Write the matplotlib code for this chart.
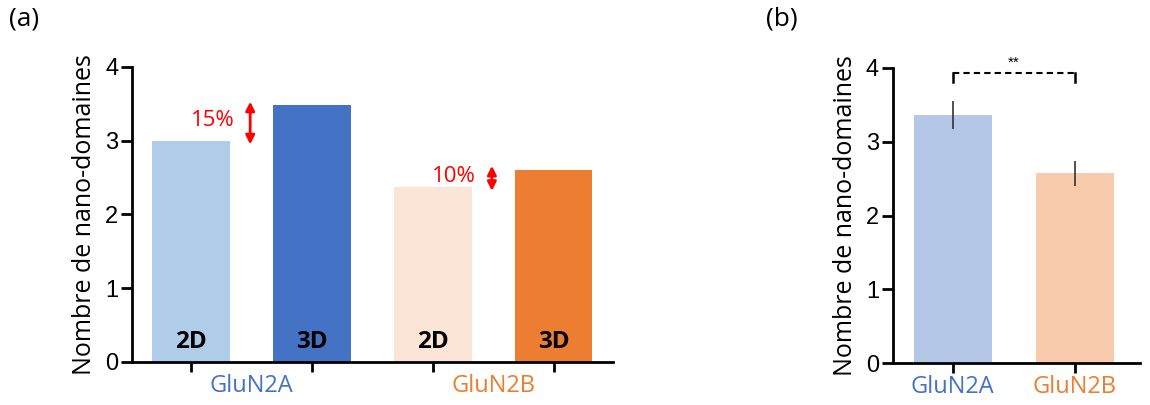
import matplotlib
matplotlib.use("Agg")
import matplotlib.pyplot as plt
import numpy as np

# panel (a) data
groups = ["GluN2A", "GluN2B"]
conditions = ["2D", "3D"]
values_a = [3.0, 3.48, 2.37, 2.61]
colors_a = ["#AFCDE9", "#4472C4", "#FBE5D6", "#ED7D31"]
pct_labels = ["15%", "10%"]

# panel (b) data
names_b = ["GluN2A", "GluN2B"]
values_b = [3.36, 2.57]
errors_b = [0.19, 0.17]
colors_b = ["#B4C7E7", "#F8CBAD"]
group_colors = ["#4472C4", "#ED7D31"]
signif = "**"

yticks = [0, 1, 2, 3, 4]
ylabel = "Nombre de nano-domaines"

label_font = ["Open Sans", "DejaVu Sans"]
tick_font = ["Liberation Sans", "DejaVu Sans"]

fig = plt.figure(figsize=(11.5, 4.05), dpi=100)
ax1 = fig.add_axes([0.1148, 0.1062, 0.418, 0.7284])
ax2 = fig.add_axes([0.7765, 0.1037, 0.2145, 0.7284])


def style_axis(ax):
    ax.spines["top"].set_visible(False)
    ax.spines["right"].set_visible(False)
    ax.spines["left"].set_linewidth(2)
    ax.spines["bottom"].set_linewidth(2)
    ax.set_ylim(0, 4)
    ax.set_yticks(yticks)
    ax.tick_params(axis="y", length=8, width=2, labelsize=17, pad=2)
    ax.tick_params(axis="x", length=7, width=2, labelsize=0)
    ax.set_ylabel(ylabel, fontsize=18, family=label_font, labelpad=6)


# ---- panel (a)
x = np.arange(len(values_a))
ax1.bar(x, values_a, width=0.645, color=colors_a)
ax1.set_xlim(-0.488, 3.49)
style_axis(ax1)
ax1.set_xticks(x)
ax1.set_xticklabels([])
for i, xi in enumerate(x):
    ax1.text(xi, 0.19, conditions[i % 2], ha="center", va="baseline",
             fontsize=17.5, fontweight="bold", family=label_font)
for g, name in enumerate(groups):
    ax1.text(2 * g + 0.5, -0.16, name, ha="center", va="top",
             fontsize=17, color=group_colors[g], family=label_font)
    lo, hi = values_a[2 * g], values_a[2 * g + 1]
    ax1.annotate("", xy=(2 * g + 0.49, hi + 0.05), xytext=(2 * g + 0.49, lo - 0.05),
                 arrowprops=dict(arrowstyle="<|-|>", color="#FF0000", lw=2,
                                 mutation_scale=13, shrinkA=0, shrinkB=0))
    ax1.text(2 * g + 0.36, (lo + hi) / 2 + 0.03, pct_labels[g], ha="right", va="center",
             fontsize=16, color="#FF0000", family=label_font)

# ---- panel (b)
xb = np.arange(len(values_b))
ax2.bar(xb, values_b, width=0.64, color=colors_b)
ax2.errorbar(xb, values_b, yerr=errors_b, fmt="none", ecolor="#333333",
             elinewidth=1.2, capsize=0)
ax2.set_xlim(-0.49, 1.53)
style_axis(ax2)
ax2.set_xticks(xb)
ax2.set_xticklabels([])
for i, name in enumerate(names_b):
    ax2.text(xb[i], -0.16, name, ha="center", va="top", fontsize=17,
             color=group_colors[i], family=label_font)
yb = 3.93
ax2.plot([xb[0], xb[0]], [yb - 0.12, yb], color="black", lw=1.8)
ax2.plot([xb[1], xb[1]], [yb - 0.12, yb], color="black", lw=1.8)
ax2.plot([xb[0], xb[1]], [yb, yb], color="black", lw=1.5, linestyle=(0, (3, 2)))
ax2.text((xb[0] + xb[1]) / 2, yb + 0.05, signif, ha="center", va="bottom",
         fontsize=11, family=tick_font)

for ax in (ax1, ax2):
    for t in ax.get_yticklabels():
        t.set_family(tick_font)

fig.text(0.008, 0.985, "(a)", fontsize=19, family=label_font, va="top")
fig.text(0.666, 0.985, "(b)", fontsize=19, family=label_font, va="top")

fig.savefig("out.png", dpi=100)
